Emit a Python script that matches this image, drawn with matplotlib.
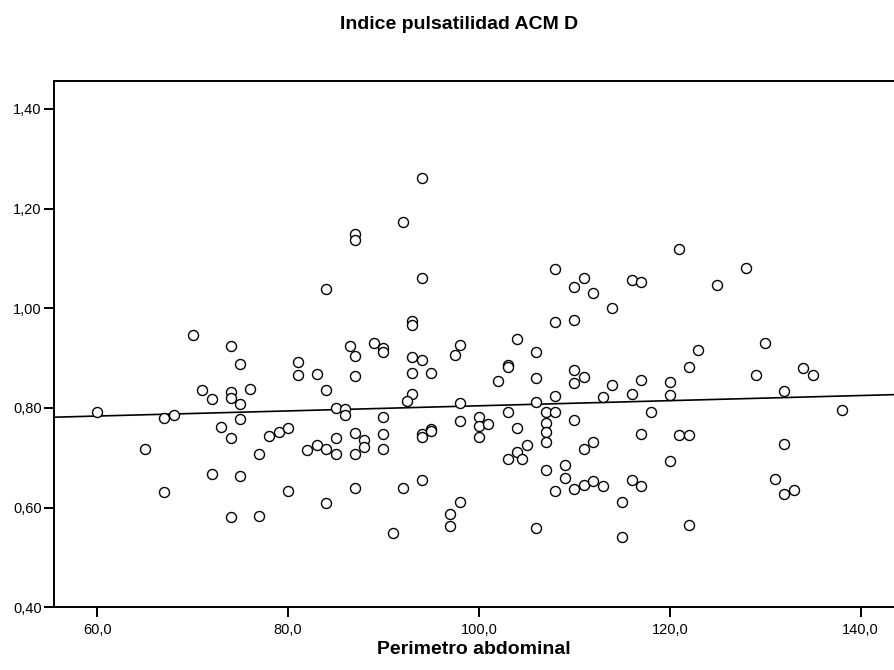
import numpy as np
import matplotlib
matplotlib.use("Agg")
import matplotlib.pyplot as plt
from matplotlib.ticker import FuncFormatter

plt.rcParams['font.family'] = ['Liberation Sans', 'DejaVu Sans']

# Perimetro abdominal (cm) vs indice de pulsatilidad ACM derecha
perimetro = [
    60, 65, 67, 68, 67, 70, 71, 72, 72, 73,
    74, 74, 74, 74, 74, 75, 75, 75, 75, 76,
    77, 77, 78, 79, 80, 80, 81, 81,
    94, 92, 87, 87, 94, 84, 93, 93, 86.5, 89, 90, 98,
    87, 90, 93, 94, 97.5, 83, 87, 93, 95, 84,
    93, 92.5, 98, 85, 86, 86, 90, 98, 100, 100,
    101, 100, 102, 85, 87, 88, 88, 90, 90, 82,
    83, 84, 85, 87, 94, 94, 95, 95, 87, 84,
    92, 94, 98, 97, 97, 91,
    121, 108, 111, 110, 112, 116, 117, 114, 108, 110,
    104, 106, 103, 103, 106, 110, 110, 111, 108, 106,
    103, 107, 108, 110, 107, 113, 114, 116, 117, 118,
    120, 120, 122, 123, 104,
    107, 107, 105, 104, 103, 104.5, 112, 111, 117, 121,
    122, 120, 107, 109, 109, 108, 110, 111, 112, 113,
    116, 117, 115, 106, 115, 122,
    128, 125, 130, 129, 134, 135, 132, 138, 132, 131,
    132, 133,
]
indice = [
    0.791, 0.717, 0.779, 0.786, 0.632, 0.946, 0.836, 0.817, 0.668, 0.762,
    0.924, 0.831, 0.819, 0.739, 0.582, 0.889, 0.808, 0.778, 0.664, 0.838,
    0.707, 0.583, 0.743, 0.751, 0.759, 0.633, 0.892, 0.866,
    1.261, 1.172, 1.148, 1.136, 1.060, 1.039, 0.975, 0.967, 0.924, 0.930, 0.921, 0.926,
    0.904, 0.912, 0.902, 0.896, 0.906, 0.868, 0.864, 0.870, 0.870, 0.836,
    0.827, 0.813, 0.810, 0.800, 0.797, 0.786, 0.781, 0.773, 0.781, 0.763,
    0.767, 0.741, 0.854, 0.739, 0.749, 0.735, 0.722, 0.747, 0.718, 0.716,
    0.725, 0.718, 0.708, 0.708, 0.747, 0.741, 0.757, 0.753, 0.640, 0.610,
    0.640, 0.656, 0.611, 0.587, 0.563, 0.550,
    1.118, 1.079, 1.060, 1.042, 1.031, 1.056, 1.052, 1.001, 0.972, 0.976,
    0.939, 0.912, 0.886, 0.883, 0.861, 0.877, 0.850, 0.862, 0.823, 0.811,
    0.792, 0.791, 0.792, 0.775, 0.769, 0.821, 0.847, 0.827, 0.856, 0.792,
    0.852, 0.825, 0.883, 0.917, 0.759,
    0.751, 0.731, 0.725, 0.711, 0.697, 0.698, 0.732, 0.717, 0.747, 0.746,
    0.746, 0.693, 0.676, 0.685, 0.660, 0.633, 0.638, 0.646, 0.654, 0.643,
    0.656, 0.643, 0.611, 0.559, 0.541, 0.565,
    1.081, 1.046, 0.930, 0.866, 0.881, 0.866, 0.834, 0.796, 0.727, 0.658,
    0.628, 0.636,
]

x_ticks = [60, 80, 100, 120, 140]
y_ticks = [0.40, 0.60, 0.80, 1.00, 1.20, 1.40]

x = np.array(perimetro, dtype=float)
y = np.array(indice, dtype=float)

fig = plt.figure(figsize=(8.94, 6.70), dpi=100)
ax = fig.add_axes([0.0607, 0.0935, 0.9393, 0.785])

ax.scatter(x, y, s=52, facecolors='white', edgecolors='black', linewidths=1.0, zorder=3)

# linear fit across the full x range
xmin, xmax = 55.5, 143.5
slope, intercept = np.polyfit(x, y, 1)
xs = np.array([xmin, xmax])
ax.plot(xs, slope * xs + intercept, color='black', lw=1.2, zorder=2)

ax.set_xlim(xmin, xmax)
ax.set_ylim(0.40, 1.455)
ax.set_xticks(x_ticks)
ax.set_yticks(y_ticks)
ax.xaxis.set_major_formatter(FuncFormatter(lambda v, p: f"{v:.1f}".replace('.', ',')))
ax.yaxis.set_major_formatter(FuncFormatter(lambda v, p: f"{v:.2f}".replace('.', ',')))
ax.tick_params(direction='out', length=7, width=1.4, labelsize=10.5, pad=2)
ax.tick_params(axis='x', pad=4)

for side in ['left', 'bottom', 'top']:
    ax.spines[side].set_linewidth(1.4)
ax.spines['right'].set_visible(False)

ax.set_xlabel("Perimetro abdominal", fontsize=14, fontweight='bold', labelpad=3)
fig.text(0.514, 0.963, "Indice pulsatilidad ACM D", ha='center', va='center',
         fontsize=14, fontweight='bold')

fig.savefig("out.png", dpi=100)
